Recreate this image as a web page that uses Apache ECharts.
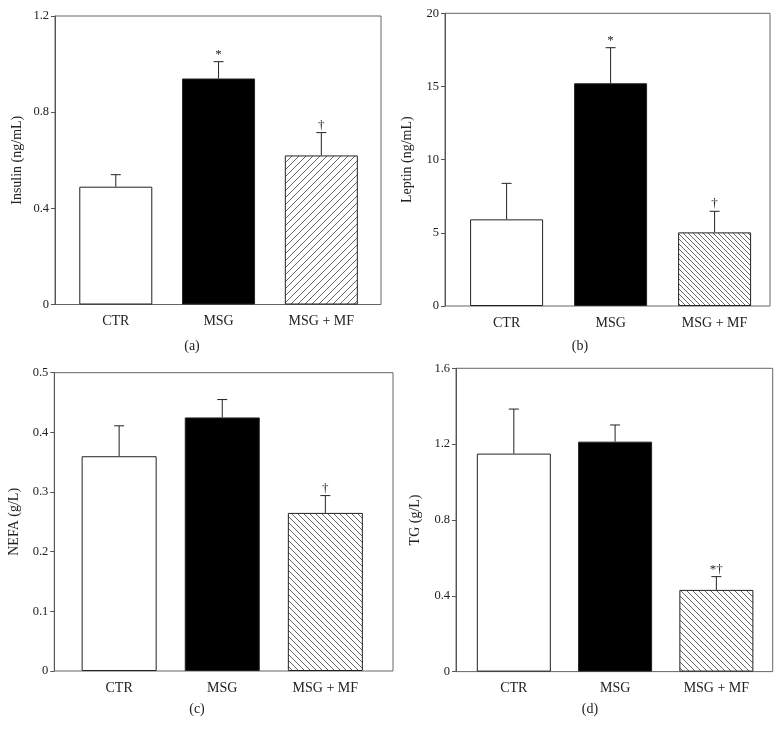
<!DOCTYPE html>
<html>
<head>
<meta charset="utf-8">
<script src="https://cdn.jsdelivr.net/npm/echarts@6/dist/echarts.min.js"></script>
<style>
html,body{margin:0;padding:0;background:#fff;}
#chart{width:782px;height:736px;}
</style>
</head>
<body>
<div id="chart"></div>
<script>
// ---- Data ----
const categories = ['CTR', 'MSG', 'MSG + MF'];

const insulinMean = [0.49, 0.94, 0.62];
const insulinErr  = [0.05, 0.07, 0.095];
const insulinMarks = ['', '*', '†'];

const leptinMean = [5.92, 15.22, 5.03];
const leptinErr  = [2.46, 2.43, 1.44];
const leptinMarks = ['', '*', '†'];

const nefaMean = [0.36, 0.425, 0.265];
const nefaErr  = [0.051, 0.030, 0.029];
const nefaMarks = ['', '', '†'];

const tgMean = [1.15, 1.213, 0.431];
const tgErr  = [0.235, 0.088, 0.070];
const tgMarks = ['', '', '*†'];

const yNames = ['Insulin (ng/mL)', 'Leptin (ng/mL)', 'NEFA (g/L)', 'TG (g/L)'];
const yMax = [1.2, 20, 0.5, 1.6];
const yInterval = [0.4, 5, 0.1, 0.4];
const subtitles = ['(a)', '(b)', '(c)', '(d)'];

// ---- Styling / layout ----
const FONT = '"Liberation Serif", "DejaVu Serif", serif';
const TXT = '#222';

function hatch(size, dir) {
  const c = document.createElement('canvas');
  c.width = size; c.height = size;
  const ctx = c.getContext('2d');
  ctx.fillStyle = '#fff';
  ctx.fillRect(0, 0, size, size);
  ctx.strokeStyle = '#555';
  ctx.lineWidth = 0.9;
  ctx.beginPath();
  if (dir === '/') {
    ctx.moveTo(-1, size + 1); ctx.lineTo(size + 1, -1);
    ctx.moveTo(-2, 2); ctx.lineTo(2, -2);
    ctx.moveTo(size - 2, size + 2); ctx.lineTo(size + 2, size - 2);
  } else {
    ctx.moveTo(-1, -1); ctx.lineTo(size + 1, size + 1);
    ctx.moveTo(-2, size - 2); ctx.lineTo(2, size + 2);
    ctx.moveTo(size - 2, -2); ctx.lineTo(size + 2, 2);
  }
  ctx.stroke();
  return { image: c, repeat: 'repeat' };
}

const panels = [
  { mean: insulinMean, err: insulinErr, marks: insulinMarks,
    frame: { left: 55, top: 16, width: 326, height: 288.5 },
    inner: { left: 64.4, width: 308.3 }, nameGap: 31, barWidth: 73,
    fill: hatch(7, '/'), sub: [192, 346] },
  { mean: leptinMean, err: leptinErr, marks: leptinMarks,
    frame: { left: 445, top: 13.3, width: 325, height: 292.7 },
    inner: { left: 454.6, width: 312 }, nameGap: 31, barWidth: 73,
    fill: hatch(5, '\\'), sub: [580, 346] },
  { mean: nefaMean, err: nefaErr, marks: nefaMarks,
    frame: { left: 54.3, top: 372.7, width: 338.7, height: 298.3 },
    inner: { left: 67.6, width: 309.3 }, nameGap: 33, barWidth: 75,
    fill: hatch(6, '\\'), sub: [197, 709] },
  { mean: tgMean, err: tgErr, marks: tgMarks,
    frame: { left: 456, top: 368.3, width: 316.7, height: 303.3 },
    inner: { left: 463.2, width: 303.8 }, nameGap: 34, barWidth: 74,
    fill: hatch(6, '\\'), sub: [590, 709] }
];

const grid = [], xAxis = [], yAxis = [], series = [], graphic = [];

panels.forEach((p, i) => {
  const gF = 2 * i, gI = 2 * i + 1;
  grid.push({ left: p.frame.left, top: p.frame.top, width: p.frame.width, height: p.frame.height,
              show: true, borderColor: '#666', borderWidth: 1, backgroundColor: 'transparent' });
  grid.push({ left: p.inner.left, top: p.frame.top, width: p.inner.width, height: p.frame.height });

  xAxis.push({ gridIndex: gF, type: 'value', min: 0, max: 1, show: false });
  yAxis.push({
    gridIndex: gF, type: 'value', min: 0, max: yMax[i], interval: yInterval[i],
    name: yNames[i], nameLocation: 'middle', nameGap: p.nameGap,
    nameTextStyle: { fontFamily: FONT, fontSize: 14, color: TXT },
    axisLine: { show: true, lineStyle: { color: '#555', width: 1 } },
    axisTick: { show: true, inside: false, length: 4, lineStyle: { color: '#555' } },
    axisLabel: { fontFamily: FONT, fontSize: 12.5, color: TXT, margin: 6 },
    splitLine: { show: false }
  });

  xAxis.push({
    gridIndex: gI, type: 'category', data: categories,
    axisLine: { show: false }, axisTick: { show: false },
    axisLabel: { fontFamily: FONT, fontSize: 14, color: TXT, margin: 10 }
  });
  yAxis.push({ gridIndex: gI, type: 'value', min: 0, max: yMax[i], show: false });

  const fills = ['#ffffff', '#000000', p.fill];
  series.push({
    type: 'bar', xAxisIndex: gI, yAxisIndex: gI, barWidth: p.barWidth,
    z: 3, silent: true,
    data: p.mean.map((v, j) => ({
      value: v,
      itemStyle: { color: fills[j], borderColor: '#222', borderWidth: 1 }
    }))
  });

  const marks = p.marks;
  series.push({
    type: 'custom', xAxisIndex: gI, yAxisIndex: gI, z: 4, silent: true,
    data: p.mean.map((v, j) => [j, v, p.err[j]]),
    renderItem: function (params, api) {
      const x = api.value(0), m = api.value(1), e = api.value(2);
      const p0 = api.coord([x, m]);
      const p1 = api.coord([x, m + e]);
      const st = { stroke: '#222', lineWidth: 1 };
      return {
        type: 'group',
        children: [
          { type: 'line', shape: { x1: p0[0], y1: p0[1], x2: p1[0], y2: p1[1] }, style: st },
          { type: 'line', shape: { x1: p1[0] - 5, y1: p1[1], x2: p1[0] + 5, y2: p1[1] }, style: st },
          { type: 'text', x: p1[0], y: p1[1] - 1,
            style: { text: marks[params.dataIndex], align: 'center', verticalAlign: 'bottom',
                     fontFamily: FONT, fontSize: 13, fill: TXT } }
        ]
      };
    }
  });

  graphic.push({ type: 'text', x: p.sub[0], y: p.sub[1],
    style: { text: subtitles[i], align: 'center', verticalAlign: 'middle',
             fontFamily: FONT, fontSize: 14, fill: TXT } });
});

const chart = echarts.init(document.getElementById('chart'), null, { renderer: 'canvas' });
chart.setOption({
  animation: false,
  backgroundColor: '#ffffff',
  grid, xAxis, yAxis, series, graphic
});
</script>
</body>
</html>
